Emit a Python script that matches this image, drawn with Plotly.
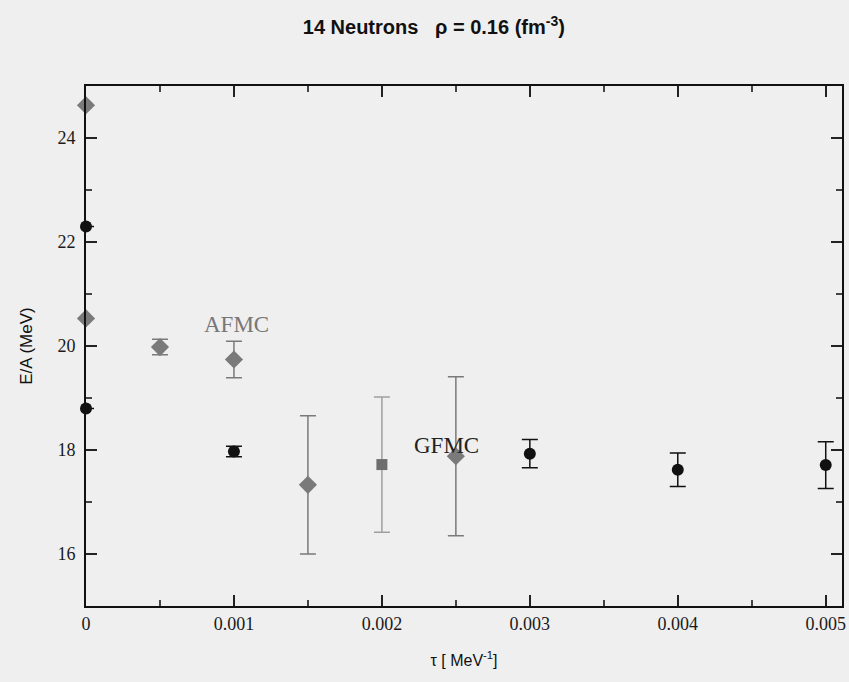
import plotly.graph_objects as go

# GFMC (black circles)
gfmc_x = [0.0, 0.0, 0.001, 0.003, 0.004, 0.005]
gfmc_y = [22.3, 18.8, 17.97, 17.93, 17.62, 17.71]
gfmc_err = [0.0, 0.0, 0.1, 0.27, 0.32, 0.45]

# AFMC (grey diamonds)
afmc_x = [0.0, 0.0, 0.0005, 0.001, 0.0015, 0.0025]
afmc_y = [24.63, 20.53, 19.98, 19.74, 17.33, 17.88]
afmc_err = [0.0, 0.0, 0.15, 0.35, 1.33, 1.53]

# grey square point
sq_x = [0.002]
sq_y = [17.72]
sq_err = [1.3]

xticks = [0, 0.001, 0.002, 0.003, 0.004, 0.005]
xtick_text = ["0", "0.001", "0.002", "0.003", "0.004", "0.005"]
yticks = [16, 18, 20, 22, 24]

fig = go.Figure()
fig.add_trace(go.Scatter(
    x=afmc_x, y=afmc_y, mode="markers", cliponaxis=False,
    marker=dict(symbol="diamond", size=14, color="#7a7a7a"),
    error_y=dict(type="data", array=afmc_err, color="#7a7a7a", thickness=1.5, width=8),
    showlegend=False))
fig.add_trace(go.Scatter(
    x=sq_x, y=sq_y, mode="markers", cliponaxis=False,
    marker=dict(symbol="square", size=11, color="#6e6e6e"),
    error_y=dict(type="data", array=sq_err, color="#a0a0a0", thickness=1.5, width=8),
    showlegend=False))
fig.add_trace(go.Scatter(
    x=gfmc_x, y=gfmc_y, mode="markers", cliponaxis=False,
    marker=dict(symbol="circle", size=12, color="#111111"),
    error_y=dict(type="data", array=gfmc_err, color="#111111", thickness=1.5, width=8),
    showlegend=False))

fig.add_annotation(x=0.00102, y=20.42, text="AFMC", showarrow=False,
                   font=dict(family="Liberation Serif", size=23, color="#777777"))
fig.add_annotation(x=0.00244, y=18.08, text="GFMC", showarrow=False,
                   font=dict(family="Liberation Serif", size=23, color="#222222"))

fig.update_layout(
    width=849, height=682,
    margin=dict(l=86, r=7, t=86, b=76),
    paper_bgcolor="#efefef", plot_bgcolor="#efefef",
    title=dict(text="<b>14 Neutrons   ρ = 0.16 (fm<sup>-3</sup>)</b>",
               x=0.511, xanchor="center", y=0.96, yanchor="middle",
               font=dict(family="Liberation Sans", size=20, color="#111111")),
    xaxis=dict(range=[0, 0.00511], tickvals=xticks, ticktext=xtick_text,
               automargin=False,
               showgrid=False, zeroline=False, showline=True, linecolor="#111",
               linewidth=2, mirror="ticks", ticks="inside", ticklen=11,
               tickwidth=2, tickcolor="#222",
               minor=dict(ticks="inside", ticklen=6, dtick=0.0005, tickcolor="#444", showgrid=False),
               tickfont=dict(family="Liberation Serif", size=18, color="#1a1a1a"),
               title=dict(text="τ [ MeV<sup>-1</sup>]", standoff=22,
                          font=dict(family="Liberation Sans", size=16, color="#111"))),
    yaxis=dict(range=[15, 25], tickvals=yticks, automargin=False,
               showgrid=False, zeroline=False, showline=True, linecolor="#111",
               linewidth=2, mirror="ticks", ticks="inside", ticklen=11,
               tickwidth=2, tickcolor="#222",
               minor=dict(ticks="inside", ticklen=6, dtick=1, tickcolor="#444", showgrid=False),
               tickfont=dict(family="Liberation Serif", size=18, color="#1a1a1a"),
               ticklabelstandoff=5,
               title=dict(text="E/A (MeV)", standoff=20,
                          font=dict(family="Liberation Sans", size=17, color="#111"))),
)

fig.write_html("out.html")
